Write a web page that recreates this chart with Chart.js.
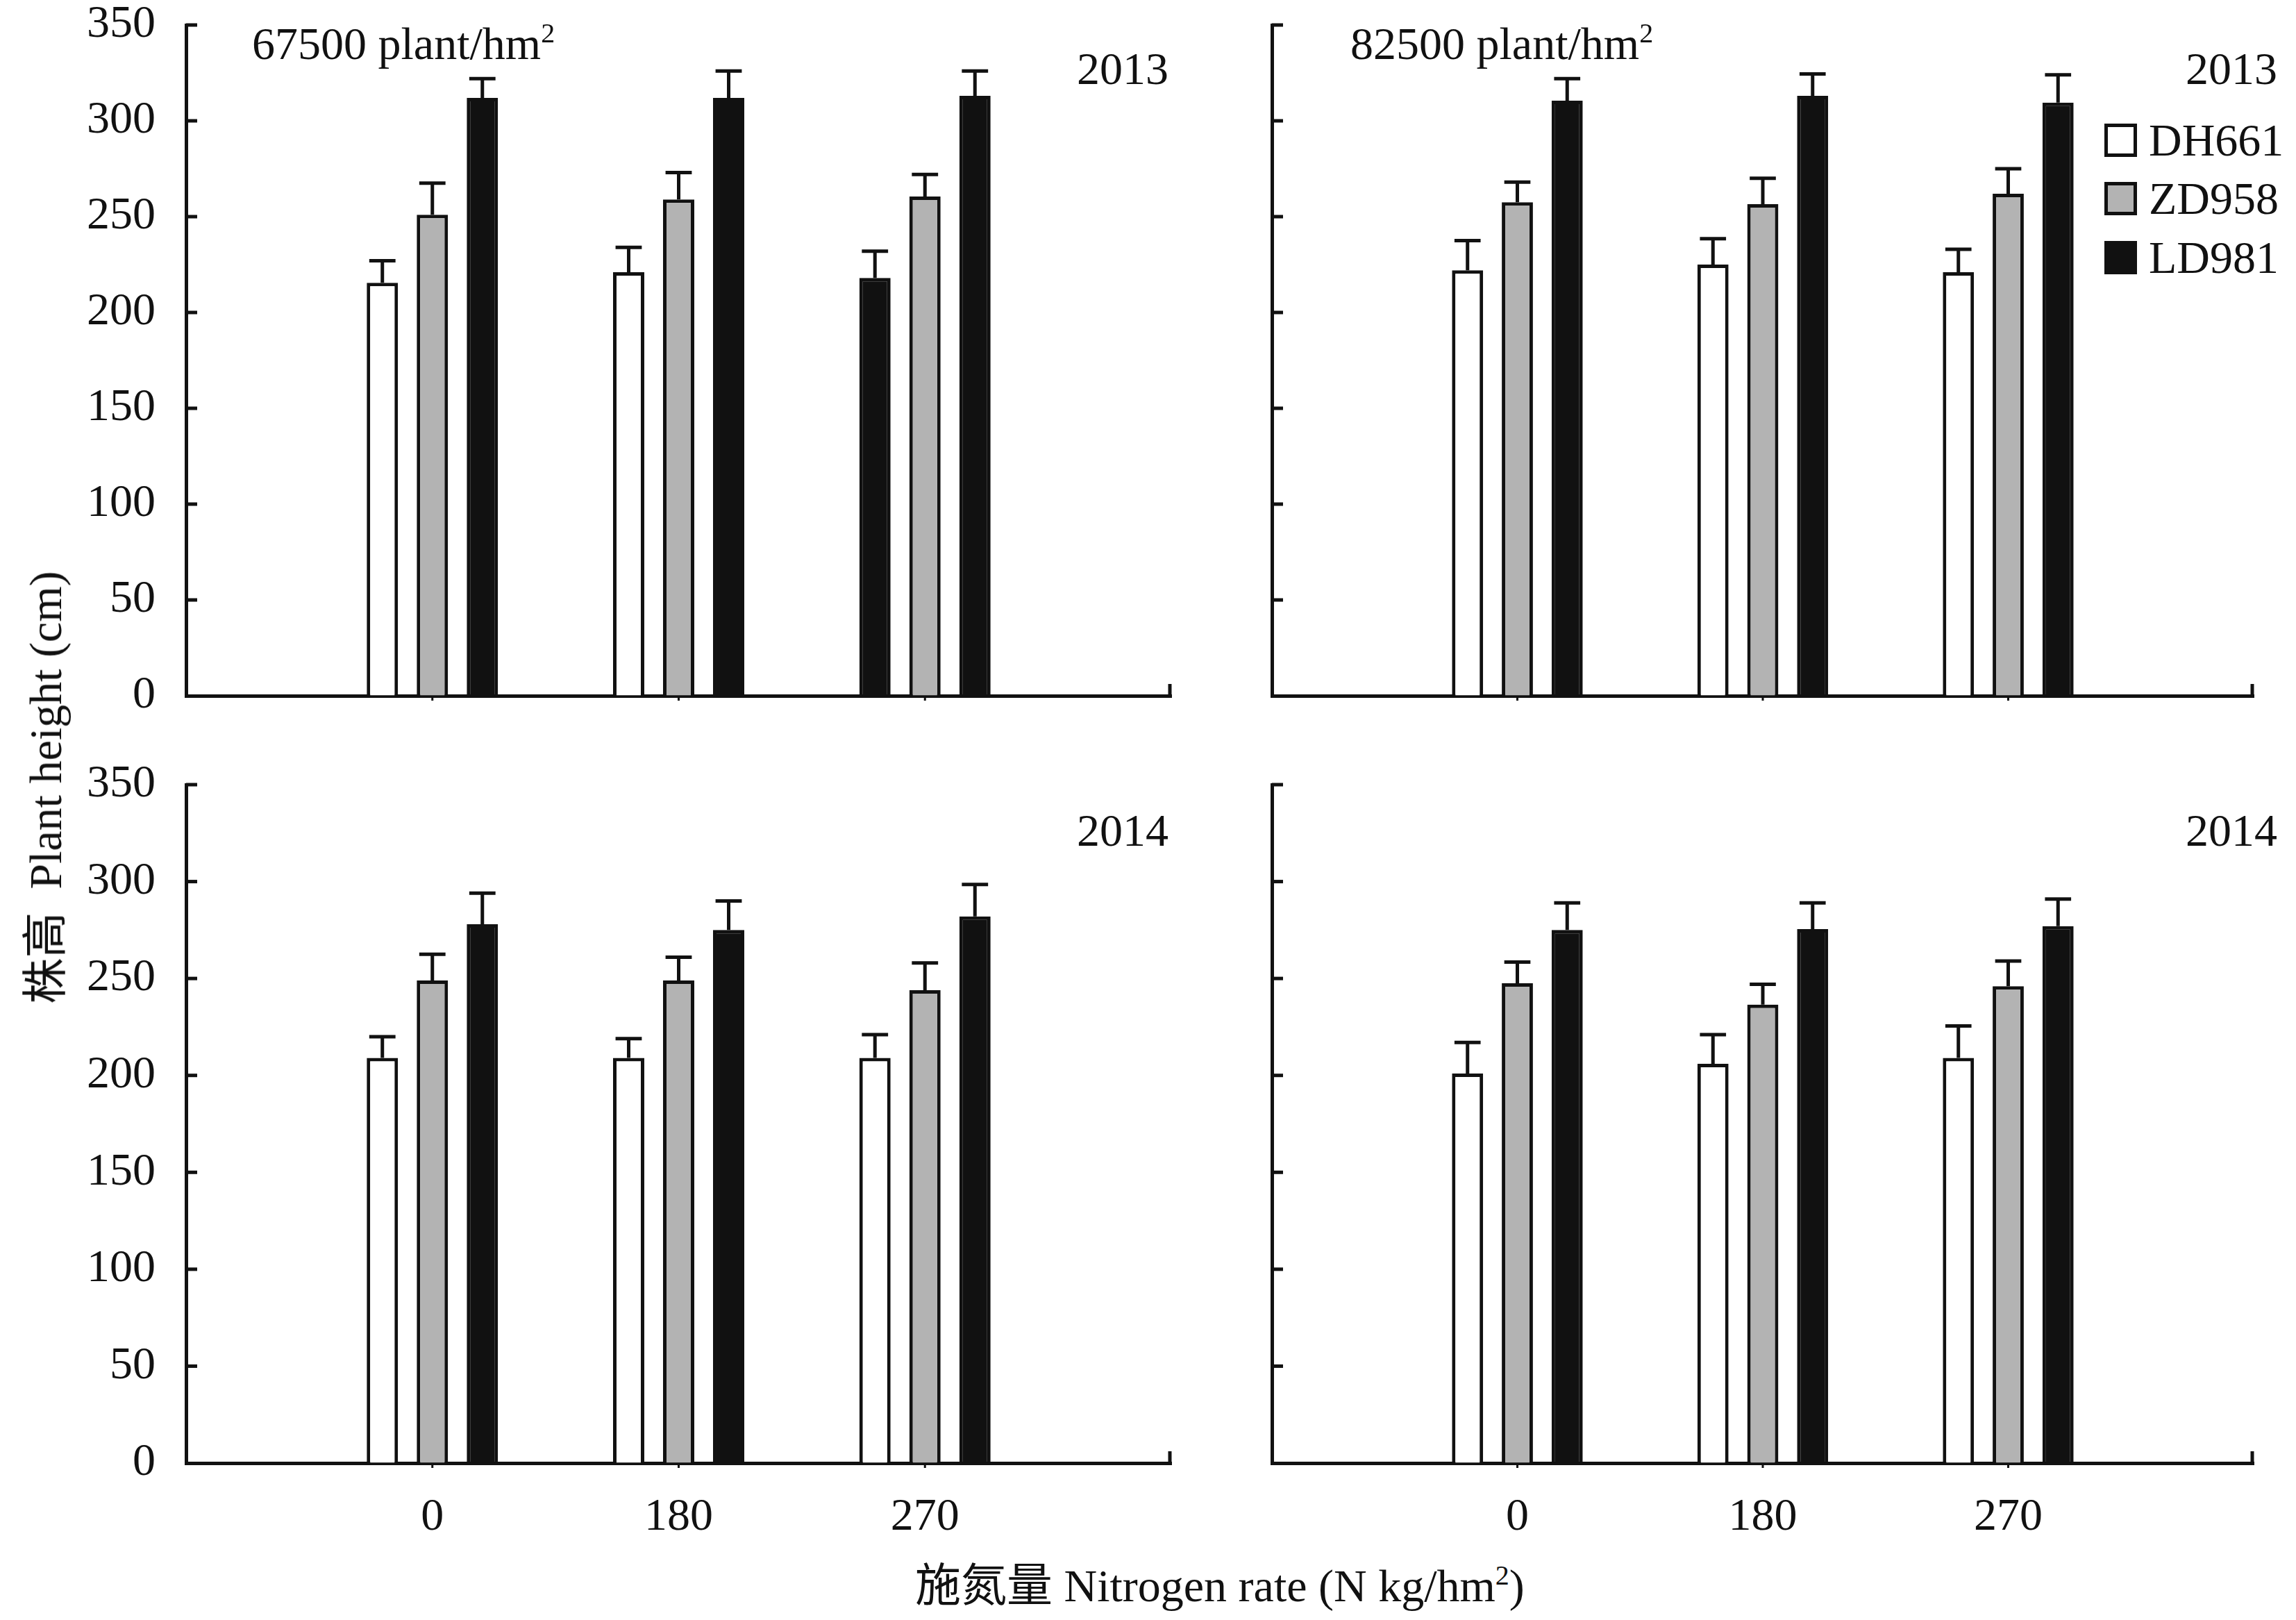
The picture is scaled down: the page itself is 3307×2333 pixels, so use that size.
<!DOCTYPE html>
<html>
<head>
<meta charset="utf-8">
<script src="https://cdn.jsdelivr.net/npm/chart.js@4.4.1/dist/chart.umd.min.js"></script>
<style>
html,body{margin:0;padding:0;background:#fff;}
#fig{position:relative;width:3307px;height:2333px;overflow:hidden;background:#fff;
  font-family:"Liberation Serif","Noto Sans CJK SC",serif;color:#111;}
#fig canvas{position:absolute;}
.t{position:absolute;font-size:66px;line-height:66px;white-space:nowrap;}
.t sup{font-size:40px;line-height:0;vertical-align:0;position:relative;top:-24px;}
.lbox{position:absolute;width:47px;height:48px;box-sizing:border-box;border:5px solid #111;}
#ytitle{position:absolute;left:66px;top:1134px;font-size:66px;line-height:66px;white-space:nowrap;
  transform:translate(-50%,-50%) rotate(-90deg);}
</style>
</head>
<body>
<div id="fig">
  <canvas id="c1"></canvas>
  <canvas id="c2"></canvas>
  <canvas id="c3"></canvas>
  <canvas id="c4"></canvas>

  <div class="t" style="left:363px;top:30px;">67500 plant/hm<sup>2</sup></div>
  <div class="t" style="left:1945px;top:30px;">82500 plant/hm<sup>2</sup></div>
  <div class="t" style="right:1624px;top:66px;">2013</div>
  <div class="t" style="right:27px;top:66px;">2013</div>
  <div class="t" style="right:1624px;top:1163px;">2014</div>
  <div class="t" style="right:27px;top:1163px;">2014</div>

  <div class="lbox" style="left:3031px;top:178px;background:#fff;"></div>
  <div class="t" style="left:3095px;top:169px;">DH661</div>
  <div class="lbox" style="left:3031px;top:262px;background:#b3b3b3;"></div>
  <div class="t" style="left:3095px;top:253px;">ZD958</div>
  <div class="lbox" style="left:3031px;top:347px;background:#111;"></div>
  <div class="t" style="left:3095px;top:338px;">LD981</div>

  <div id="ytitle">株高&nbsp;&nbsp;Plant height (cm)</div>
  <div class="t" style="left:1318px;top:2251px;">施氮量 Nitrogen rate (N kg/hm<sup>2</sup>)</div>
</div>

<script>
// ---------------- DATA ----------------
const categories = ['0', '180', '270'];              // Nitrogen rate (N kg/hm2)
const cultivars = ['DH661', 'ZD958', 'LD981'];
const yTickValues = [0, 50, 100, 150, 200, 250, 300, 350];

// 2013, 67500 plant/hm2 (plant height, cm)
const dh661_2013_67500 = [215.5, 221, 218];
const zd958_2013_67500 = [251, 259, 260.5];
const ld981_2013_67500 = [312, 312, 313];
const dh661_2013_67500_err = [11.5, 13, 14];
const zd958_2013_67500_err = [16.5, 14, 11.5];
const ld981_2013_67500_err = [10, 14, 13];

// 2013, 82500 plant/hm2
const dh661_2013_82500 = [222, 225, 221];
const zd958_2013_82500 = [257.5, 256.5, 262];
const ld981_2013_82500 = [310.5, 313, 309.5];
const dh661_2013_82500_err = [15.5, 13.5, 12];
const zd958_2013_82500_err = [10.5, 13.5, 13];
const ld981_2013_82500_err = [11.5, 11.5, 14.5];

// 2014, 67500 plant/hm2
const dh661_2014_67500 = [209, 209, 209];
const zd958_2014_67500 = [249, 249, 244];
const ld981_2014_67500 = [278, 275, 282];
const dh661_2014_67500_err = [11, 10, 12];
const zd958_2014_67500_err = [13.5, 12, 14];
const ld981_2014_67500_err = [16, 15, 16.5];

// 2014, 82500 plant/hm2
const dh661_2014_82500 = [201, 206, 209];
const zd958_2014_82500 = [247.5, 236.5, 246];
const ld981_2014_82500 = [275, 275.5, 277];
const dh661_2014_82500_err = [16, 15, 16.5];
const zd958_2014_82500_err = [11, 10.5, 13];
const ld981_2014_82500_err = [14, 13.5, 14];

// ---------------- STYLE / LAYOUT ----------------
const INK = '#111';
const WHITE = '#ffffff';
const GRAY = '#b3b3b3';
const FONT = {family: 'Liberation Serif', size: 66, lineHeight: 1};

const pad = arr => [null, ...arr, null];

const errorBarPlugin = {
  id: 'errorBars',
  afterDatasetsDraw(chart) {
    const ctx = chart.ctx, ys = chart.scales.y;
    ctx.save();
    ctx.strokeStyle = INK;
    ctx.lineWidth = 5;
    chart.data.datasets.forEach((ds, i) => {
      const meta = chart.getDatasetMeta(i);
      meta.data.forEach((el, j) => {
        const v = ds.data[j], e = ds.errors[j];
        if (v == null || e == null) return;
        const x = el.x, y0 = el.y, y1 = ys.getPixelForValue(v + e);
        const half = el.width * 0.42;
        ctx.beginPath();
        ctx.moveTo(x, y0); ctx.lineTo(x, y1);
        ctx.moveTo(x - half, y1); ctx.lineTo(x + half, y1);
        ctx.stroke();
      });
    });
    ctx.restore();
  }
};

const axisMarksPlugin = {
  id: 'axisMarks',
  afterDraw(chart) {
    const ctx = chart.ctx, a = chart.chartArea;
    const ys = chart.scales.y, xs = chart.scales.x;
    ctx.save();
    ctx.strokeStyle = INK;
    ctx.lineWidth = 5;
    yTickValues.forEach(v => {
      if (v === 0) return;
      const p = ys.getPixelForValue(v);
      ctx.beginPath(); ctx.moveTo(a.left, p); ctx.lineTo(a.left + 16, p); ctx.stroke();
    });
    ctx.beginPath(); ctx.moveTo(a.right - 2, a.bottom); ctx.lineTo(a.right - 2, a.bottom - 17); ctx.stroke();
    ctx.lineWidth = 3;
    for (let i = 1; i <= categories.length; i++) {
      const p = xs.getPixelForValue(i);
      ctx.beginPath(); ctx.moveTo(p, a.bottom); ctx.lineTo(p, a.bottom + 7); ctx.stroke();
    }
    ctx.restore();
  }
};

function makePanel(id, box, layout, series, errs, dhFill) {
  const cv = document.getElementById(id);
  cv.width = box.width; cv.height = box.height;
  cv.style.left = box.left + 'px'; cv.style.top = box.top + 'px';
  cv.style.width = box.width + 'px'; cv.style.height = box.height + 'px';
  const fills = [dhFill, GRAY, INK];
  const datasets = cultivars.map((name, k) => ({
    label: name,
    data: pad(series[k]),
    errors: pad(errs[k]),
    backgroundColor: k === 0 ? pad(dhFill).map(c => c || WHITE) : fills[k],
    borderColor: INK,
    borderWidth: 5,
    borderSkipped: 'start',
    categoryPercentage: 0.609,
    barPercentage: 0.625
  }));
  return new Chart(cv, {
    type: 'bar',
    data: {labels: ['', ...categories, ''], datasets},
    options: {
      responsive: false,
      animation: false,
      devicePixelRatio: 1,
      layout: {padding: {top: layout.padTop, right: layout.padRight, left: 0, bottom: 0}},
      plugins: {legend: {display: false}, tooltip: {enabled: false}},
      scales: {
        x: {
          type: 'category',
          offset: false,
          grid: {display: false},
          border: {display: true, width: 5, color: INK},
          ticks: {display: layout.showX, autoSkip: false, maxRotation: 0, padding: 38, font: FONT, color: INK},
          afterFit: s => { s.height = layout.xH; }
        },
        y: {
          min: 0, max: 350,
          grid: {display: true, drawOnChartArea: false, drawTicks: true, tickLength: 44, color: 'rgba(0,0,0,0)'},
          border: {display: true, width: 5, color: INK},
          ticks: {display: layout.showY, stepSize: 50, padding: 0, font: FONT, color: INK},
          afterFit: s => { s.width = layout.yW; }
        }
      }
    },
    plugins: [errorBarPlugin, axisMarksPlugin]
  });
}

makePanel('c1', {left: 0, top: 0, width: 1750, height: 1060},
  {yW: 268, padTop: 36, padRight: 63, xH: 58, showX: false, showY: true},
  [dh661_2013_67500, zd958_2013_67500, ld981_2013_67500],
  [dh661_2013_67500_err, zd958_2013_67500_err, ld981_2013_67500_err],
  [WHITE, WHITE, INK]);

makePanel('c2', {left: 1750, top: 0, width: 1557, height: 1060},
  {yW: 82, padTop: 36, padRight: 61, xH: 58, showX: false, showY: false},
  [dh661_2013_82500, zd958_2013_82500, ld981_2013_82500],
  [dh661_2013_82500_err, zd958_2013_82500_err, ld981_2013_82500_err],
  [WHITE, WHITE, WHITE]);

makePanel('c3', {left: 0, top: 1066, width: 1750, height: 1167},
  {yW: 268, padTop: 64, padRight: 63, xH: 126, showX: true, showY: true},
  [dh661_2014_67500, zd958_2014_67500, ld981_2014_67500],
  [dh661_2014_67500_err, zd958_2014_67500_err, ld981_2014_67500_err],
  [WHITE, WHITE, WHITE]);

makePanel('c4', {left: 1750, top: 1066, width: 1557, height: 1167},
  {yW: 82, padTop: 64, padRight: 61, xH: 126, showX: true, showY: false},
  [dh661_2014_82500, zd958_2014_82500, ld981_2014_82500],
  [dh661_2014_82500_err, zd958_2014_82500_err, ld981_2014_82500_err],
  [WHITE, WHITE, WHITE]);
</script>
</body>
</html>
